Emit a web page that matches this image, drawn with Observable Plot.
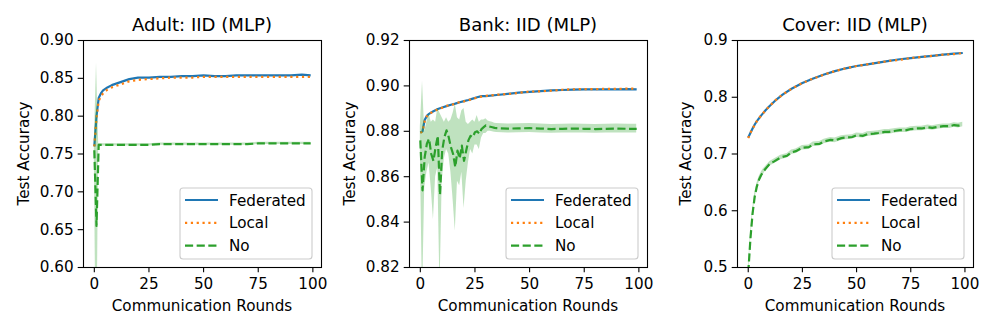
<!DOCTYPE html>
<html><head><meta charset="utf-8">
<script src="https://cdn.jsdelivr.net/npm/d3@7"></script>
<script src="https://cdn.jsdelivr.net/npm/@observablehq/plot@0.6"></script>
<style>
body{margin:0;background:#fff;}
#wrap{position:relative;width:996px;height:332px;overflow:hidden;font-family:"DejaVu Sans",sans-serif;}
#wrap svg{position:absolute;top:0;}
</style></head><body><div id="wrap"></div>
<script>
// ---------- data ----------
const seriesNames = ["Federated", "Local", "No"];
const xTicks = [0, 25, 50, 75, 100];

// Adult
const adultTitle = "Adult: IID (MLP)";
const adultYTicks = [0.60, 0.65, 0.70, 0.75, 0.80, 0.85, 0.90];
const adultRounds = [0,1,2,3,4,5,6,8,10,12,14,16,18,20,25,30,35,40,45,50,55,60,65,70,75,80,85,90,95,99];
const adultFed   = [0.760,0.800,0.824,0.830,0.834,0.836,0.838,0.841,0.843,0.845,0.847,0.849,0.850,0.851,0.851,0.852,0.852,0.853,0.853,0.854,0.853,0.853,0.854,0.854,0.854,0.854,0.854,0.854,0.855,0.854];
const adultLocal = [0.760,0.798,0.820,0.826,0.830,0.833,0.835,0.838,0.840,0.842,0.844,0.846,0.847,0.848,0.849,0.850,0.851,0.851,0.851,0.852,0.852,0.852,0.852,0.852,0.852,0.852,0.852,0.852,0.852,0.852];
const adultNo    = [0.755,0.655,0.762,0.762,0.762,0.762,0.762,0.762,0.762,0.762,0.762,0.762,0.762,0.762,0.762,0.763,0.763,0.763,0.763,0.763,0.763,0.763,0.763,0.763,0.764,0.764,0.764,0.764,0.764,0.764];
const adultNoSpread = [0.010,0.215,0.002,0.0015,0.0015,0.0015,0.0015,0.0015,0.0015,0.0015,0.0015,0.0015,0.0015,0.0015,0.0015,0.0015,0.0015,0.0015,0.0015,0.0015,0.0015,0.0015,0.0015,0.0015,0.0015,0.0015,0.0015,0.0015,0.0015,0.0015];

// Bank
const bankTitle = "Bank: IID (MLP)";
const bankYTicks = [0.82, 0.84, 0.86, 0.88, 0.90, 0.92];
const bankRounds = [0,1,2,3,4,5,6,8,10,12,14,16,18,20,22,24,26,28,30,35,40,45,50,55,60,65,70,75,80,85,90,95,99];
const bankFed   = [0.8795,0.8800,0.8850,0.8868,0.8877,0.8883,0.8888,0.8898,0.8905,0.8911,0.8917,0.8922,0.8928,0.8933,0.8938,0.8944,0.8950,0.8955,0.8955,0.8960,0.8965,0.8970,0.8974,0.8977,0.8980,0.8982,0.8984,0.8985,0.8985,0.8985,0.8985,0.8986,0.8985];
const bankLocal = [0.8793,0.8798,0.8845,0.8866,0.8876,0.8882,0.8887,0.8897,0.8904,0.8912,0.8916,0.8921,0.8929,0.8932,0.8937,0.8943,0.8949,0.8953,0.8956,0.8961,0.8964,0.8969,0.8975,0.8976,0.8979,0.8983,0.8985,0.8986,0.8986,0.8987,0.8987,0.8988,0.8988];
const bankNoRounds = [0,1,2,3,4,5,6,7,8,9,10,11,12,13,14,15,16,17,18,19,20,21,22,23,24,25,26,27,28,29,30,31,32,33,34,35,40,45,50,55,60,65,70,75,80,85,90,95,99];
const bankNo   = [0.876,0.854,0.8686,0.8745,0.8767,0.870,0.867,0.873,0.878,0.852,
                  0.8715,0.8774,0.8804,0.8774,0.873,0.870,0.8642,0.8715,0.868,0.8737,
                  0.867,0.8715,0.876,0.878,0.8774,0.8796,0.880,0.8789,0.881,0.8818,
                  0.8826,0.8822,0.8820,0.8818,0.8815,0.8814,
                  0.8812,0.8813,0.8814,0.8812,0.8810,0.8811,0.8812,0.8811,0.8810,0.8811,0.8812,0.8811,0.8811];
const bankNoLo = [0.872,0.805,0.855,0.862,0.866,0.855,0.841,0.860,0.864,0.810,
                  0.858,0.868,0.872,0.870,0.862,0.850,0.836,0.858,0.856,0.862,
                  0.846,0.858,0.866,0.872,0.870,0.874,0.874,0.872,0.877,0.879,
                  0.879,0.8800,0.8800,0.8798,0.8796,0.8795,
                  0.8792,0.8794,0.8795,0.8793,0.8791,0.8792,0.8793,0.8792,0.8791,0.8792,0.8793,0.8792,0.8792];
const bankNoHi = [0.882,0.902,0.880,0.884,0.888,0.884,0.885,0.884,0.890,0.888,
                  0.886,0.884,0.886,0.884,0.885,0.888,0.892,0.886,0.885,0.889,
                  0.890,0.884,0.883,0.884,0.885,0.884,0.887,0.884,0.885,0.885,
                  0.8855,0.8845,0.8842,0.8840,0.8836,0.8834,
                  0.8832,0.8833,0.8834,0.8832,0.8830,0.8831,0.8832,0.8831,0.8830,0.8831,0.8832,0.8831,0.8831];

// Cover
const coverTitle = "Cover: IID (MLP)";
const coverYTicks = [0.5, 0.6, 0.7, 0.8, 0.9];
const coverRounds = [0,1,2,3,4,6,8,10,13,16,20,25,30,35,40,45,50,55,60,65,70,75,80,85,90,95,99];
const coverFed   = [0.729,0.737,0.745,0.752,0.758,0.768,0.777,0.785,0.796,0.805,0.815,0.825,0.833,0.840,0.846,0.851,0.855,0.858,0.861,0.864,0.867,0.869,0.871,0.873,0.875,0.877,0.878];
const coverLocal = [0.728,0.737,0.745,0.751,0.758,0.768,0.777,0.785,0.796,0.805,0.815,0.825,0.833,0.840,0.846,0.851,0.855,0.858,0.861,0.864,0.866,0.869,0.871,0.873,0.875,0.876,0.878];
const coverNoRounds = [0,1,2,3,4,5,6,7,8,10,12,15,18,20,22,25,28,30,33,35,38,40,43,45,48,50,53,55,58,60,63,65,68,70,73,75,78,80,83,85,88,90,93,95,97,99];
const coverNo = [0.490,0.550,0.595,0.625,0.643,0.655,0.663,0.669,0.674,0.683,0.687,0.694,0.697,0.703,0.705,0.711,0.712,0.717,0.718,0.722,0.725,0.724,0.728,0.729,0.730,0.733,0.732,0.735,0.736,0.737,0.739,0.739,0.741,0.742,0.742,0.744,0.745,0.745,0.747,0.746,0.748,0.749,0.749,0.751,0.750,0.752];
const coverNoSpread = [0.008,0.007,0.006,0.006,0.005,0.005,0.005,0.005,0.004,0.004,0.004,0.004,0.004,0.004,0.004,0.004,0.004,0.004,0.004,0.004,0.004,0.004,0.004,0.004,0.004,0.004,0.004,0.004,0.004,0.004,0.004,0.004,0.004,0.004,0.004,0.004,0.004,0.004,0.004,0.004,0.004,0.004,0.004,0.004,0.004,0.004];

// ---------- drawing ----------
const C = {fed: "#1f77b4", local: "#ff7f0e", no: "#2ca02c"};
const LW = 2.2;
const DOT = `${LW},${(LW*1.65).toFixed(2)}`;
const DASH = `${(LW*3.7).toFixed(2)},${(LW*1.6).toFixed(2)}`;
const FONT = '"DejaVu Sans", sans-serif';
const FS = 15.2;      // tick / label / legend font size
const TFS = 18.1;     // title font size

const toRows = (rounds, vals) => rounds.map((r, i) => ({r, v: vals[i]}));
const toBand = (rounds, lo, hi) => rounds.map((r, i) => ({r, lo: lo[i], hi: hi[i]}));

const panels = [
  {left: 0, mL: 83, mR: 11, title: adultTitle, yDomain: [0.60, 0.90], yTicks: adultYTicks, fmt: ".2f",
   fed: toRows(adultRounds, adultFed), local: toRows(adultRounds, adultLocal), no: toRows(adultRounds, adultNo),
   band: toBand(adultRounds, adultNo.map((v,i)=>v-adultNoSpread[i]), adultNo.map((v,i)=>v+adultNoSpread[i])),
   ylabX: 28.5, legX: 180},
  {left: 332, mL: 77, mR: 17, title: bankTitle, yDomain: [0.82, 0.92], yTicks: bankYTicks, fmt: ".2f",
   fed: toRows(bankRounds, bankFed), local: toRows(bankRounds, bankLocal), no: toRows(bankNoRounds, bankNo),
   band: toBand(bankNoRounds, bankNoLo, bankNoHi),
   ylabX: 355, legX: 506},
  {left: 664, mL: 73, mR: 23, title: coverTitle, yDomain: [0.5, 0.9], yTicks: coverYTicks, fmt: ".1f",
   fed: toRows(coverRounds, coverFed), local: toRows(coverRounds, coverLocal), no: toRows(coverNoRounds, coverNo),
   band: toBand(coverNoRounds, coverNo.map((v,i)=>v-coverNoSpread[i]), coverNo.map((v,i)=>v+coverNoSpread[i])),
   ylabX: 691, legX: 832}
];

const wrap = document.getElementById("wrap");
const W = 332, H = 332, MT = 40, MB = 65;

for (const p of panels) {
  const svg = Plot.plot({
    width: W, height: H, marginLeft: p.mL, marginRight: p.mR, marginTop: MT, marginBottom: MB,
    style: {fontFamily: FONT, fontSize: FS + "px", color: "black", background: "transparent", overflow: "visible"},
    x: {domain: [-4.95, 103.95]},
    y: {domain: p.yDomain},
    marks: [
      Plot.line(p.fed, {x: "r", y: "v", stroke: C.fed, strokeWidth: LW, strokeLinecap: "butt", clip: true}),
      Plot.line(p.local, {x: "r", y: "v", stroke: C.local, strokeWidth: LW, strokeDasharray: DOT, strokeLinecap: "butt", clip: true}),
      Plot.areaY(p.band, {x: "r", y1: "lo", y2: "hi", fill: C.no, fillOpacity: 0.3, clip: true}),
      Plot.line(p.no, {x: "r", y: "v", stroke: C.no, strokeWidth: LW, strokeDasharray: DASH, strokeLinecap: "butt", clip: true}),
      Plot.frame({stroke: "black", strokeWidth: 1.1}),
      Plot.axisX({ticks: xTicks, tickSize: 5.3, tickPadding: 5.5, strokeWidth: 1.1, label: null, fontSize: FS}),
      Plot.axisY({ticks: p.yTicks, tickFormat: d3.format(p.fmt), tickSize: 5.3, tickPadding: 4.5, strokeWidth: 1.1, label: null, fontSize: FS})
    ]
  });
  svg.style.left = p.left + "px";
  wrap.appendChild(svg);
}

// overlay: titles, axis labels, legends
const ns = "http://www.w3.org/2000/svg";
const ov = document.createElementNS(ns, "svg");
ov.setAttribute("width", 996); ov.setAttribute("height", 332);
ov.style.left = "0px";
ov.setAttribute("font-family", FONT);
wrap.appendChild(ov);
function el(tag, attrs, text) {
  const e = document.createElementNS(ns, tag);
  for (const k in attrs) e.setAttribute(k, attrs[k]);
  if (text != null) e.textContent = text;
  ov.appendChild(e);
  return e;
}
const styles = [
  {stroke: C.fed, dash: null},
  {stroke: C.local, dash: DOT},
  {stroke: C.no, dash: DASH}
];
for (const p of panels) {
  const fx0 = p.left + p.mL, fx1 = p.left + W - p.mR;
  const cx = (fx0 + fx1) / 2;
  el("text", {x: cx, y: 31, "text-anchor": "middle", "font-size": TFS + "px", fill: "black"}, p.title);
  el("text", {x: cx, y: 310.5, "text-anchor": "middle", "font-size": FS + "px", fill: "black"}, "Communication Rounds");
  const cy = (MT + H - MB) / 2;
  el("text", {x: 0, y: 0, transform: `translate(${p.ylabX},${cy}) rotate(-90)`, "text-anchor": "middle", "font-size": FS + "px", fill: "black"}, "Test Accuracy");
  // legend
  const lx = p.legX, ly = 188;
  el("rect", {x: lx, y: ly, width: 132, height: 71, rx: 3, fill: "white", "fill-opacity": 0.8, stroke: "#cccccc", "stroke-width": 1.1});
  seriesNames.forEach((name, i) => {
    const ry = ly + 12 + i * 22.8;
    const a = {x1: lx + 5, x2: lx + 38, y1: ry, y2: ry, stroke: styles[i].stroke, "stroke-width": LW};
    if (styles[i].dash) a["stroke-dasharray"] = styles[i].dash;
    el("line", a);
    el("text", {x: lx + 49, y: ry + 5.5, "font-size": FS + "px", fill: "black"}, name);
  });
}
</script></body></html>
